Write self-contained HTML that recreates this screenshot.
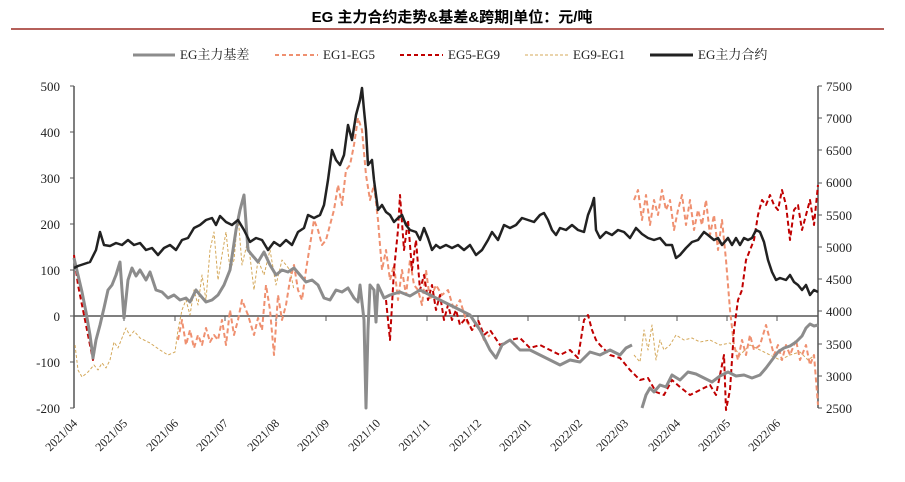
<!DOCTYPE html>
<html><head><meta charset="utf-8"><style>
body{margin:0;background:#fff;width:905px;height:477px;overflow:hidden}
svg{font-family:"Liberation Serif","Noto Serif CJK SC",serif}
</style></head><body>
<svg width="905" height="477" viewBox="0 0 905 477">
<text x="452" y="22" text-anchor="middle" font-family="Liberation Sans,Noto Sans CJK SC,sans-serif" font-weight="bold" font-size="15">EG 主力合约走势&amp;基差&amp;跨期|单位：元/吨</text>
<line x1="11" y1="29" x2="884" y2="29" stroke="#b5605a" stroke-width="2"/>
<g font-size="13" fill="#222">
<line x1="133" y1="55" x2="175" y2="55" stroke="#8c8c8c" stroke-width="3"/><text x="180" y="59">EG主力基差</text>
<line x1="275" y1="55" x2="318" y2="55" stroke="#ef9070" stroke-width="2" stroke-dasharray="4,3"/><text x="323" y="59">EG1-EG5</text>
<line x1="400" y1="55" x2="443" y2="55" stroke="#c00000" stroke-width="2" stroke-dasharray="4,3"/><text x="448" y="59">EG5-EG9</text>
<line x1="525" y1="55" x2="568" y2="55" stroke="#d4a85a" stroke-width="1" stroke-dasharray="3,2"/><text x="573" y="59">EG9-EG1</text>
<line x1="650" y1="55" x2="693" y2="55" stroke="#222" stroke-width="3"/><text x="698" y="59">EG主力合约</text>
</g>
<g stroke="#555" stroke-width="1.5">
<line x1="74" y1="86" x2="74" y2="408"/><line x1="818" y1="86" x2="818" y2="408"/>
<line x1="74" y1="316" x2="818" y2="316"/>
</g>
<g stroke="#555" stroke-width="1">
<path d="M70,86H74M70,132H74M70,178H74M70,224H74M70,270H74M70,316H74M70,362H74M70,408H74"/>
<path d="M818,86H822M818,118H822M818,150H822M818,183H822M818,215H822M818,247H822M818,279H822M818,311H822M818,344H822M818,376H822M818,408H822"/>
<path d="M124,316V321M175,316V321M225,316V321M276,316V321M326,316V321M377,316V321M427,316V321M478,316V321M528,316V321M579,316V321M625,316V321M677,316V321M727,316V321M777,316V321"/>
</g>
<g font-size="13" fill="#222" text-anchor="end">
<text x="60" y="91">500</text><text x="60" y="137">400</text><text x="60" y="183">300</text><text x="60" y="229">200</text><text x="60" y="275">100</text><text x="60" y="321">0</text><text x="60" y="367">-100</text><text x="60" y="413">-200</text>
</g>
<g font-size="13" fill="#222">
<text x="826" y="91">7500</text><text x="826" y="123">7000</text><text x="826" y="155">6500</text><text x="826" y="187">6000</text><text x="826" y="220">5500</text><text x="826" y="252">5000</text><text x="826" y="284">4500</text><text x="826" y="316">4000</text><text x="826" y="349">3500</text><text x="826" y="381">3000</text><text x="826" y="413">2500</text>
</g>
<g font-size="12" fill="#222">
<text transform="translate(78,424) rotate(-45)" text-anchor="end">2021/04</text>
<text transform="translate(128,424) rotate(-45)" text-anchor="end">2021/05</text>
<text transform="translate(179,424) rotate(-45)" text-anchor="end">2021/06</text>
<text transform="translate(229,424) rotate(-45)" text-anchor="end">2021/07</text>
<text transform="translate(280,424) rotate(-45)" text-anchor="end">2021/08</text>
<text transform="translate(330,424) rotate(-45)" text-anchor="end">2021/09</text>
<text transform="translate(381,424) rotate(-45)" text-anchor="end">2021/10</text>
<text transform="translate(431,424) rotate(-45)" text-anchor="end">2021/11</text>
<text transform="translate(482,424) rotate(-45)" text-anchor="end">2021/12</text>
<text transform="translate(532,424) rotate(-45)" text-anchor="end">2022/01</text>
<text transform="translate(583,424) rotate(-45)" text-anchor="end">2022/02</text>
<text transform="translate(629,424) rotate(-45)" text-anchor="end">2022/03</text>
<text transform="translate(681,424) rotate(-45)" text-anchor="end">2022/04</text>
<text transform="translate(731,424) rotate(-45)" text-anchor="end">2022/05</text>
<text transform="translate(781,424) rotate(-45)" text-anchor="end">2022/06</text>
</g>
<g fill="none" stroke-linejoin="round">
<polyline stroke="#d4a85a" stroke-width="1" stroke-dasharray="3,2" points="75,345 78,370 82,377 88,372 94,365 98,370 102,363 106,368 110,360 114,342 118,348 122,338 126,328 130,336 134,331 140,338 150,343 160,350 168,355 175,352 178,330 182,310 186,300 190,315 194,290 198,305 202,275 206,300 210,250 214,232 218,280 222,255 226,232 230,270 234,260 238,215 242,265 248,240 254,290 258,260 264,275 270,250 276,285 282,260 290,270 294,290"/>
<polyline stroke="#d4a85a" stroke-width="1" stroke-dasharray="3,2" points="634,355 640,362 644,330 648,350 652,325 656,360 660,340 664,350 670,345 676,335 684,340 692,338 700,342 710,340 720,345 730,343 740,355 750,345 760,350 770,355 780,360 790,355 800,352 808,360 815,355"/>
<polyline stroke="#ef9070" stroke-width="2" stroke-dasharray="5,3" points="178,340 182,320 186,345 190,330 194,348 198,335 202,345 206,328 210,342 214,335 218,340 222,320 226,345 230,310 234,335 238,320 242,300 248,315 254,335 258,318 262,330 266,285 270,310 274,355 278,295 282,320 286,305 290,280 294,265 298,290 302,300 306,270 310,245 314,220 318,230 322,245 326,240 330,225 334,210 338,185 342,205 346,170 350,165 354,145 358,118 362,130 366,175 370,200 374,185 378,220 382,270 386,250 390,280 394,265 398,300 402,270 406,295 410,260 414,285 418,290 422,305 426,270 430,300 436,285 442,295 448,290 454,310 460,300 466,320 472,330 478,325 484,340 490,335"/>
<polyline stroke="#ef9070" stroke-width="2" stroke-dasharray="5,3" points="634,200 638,190 642,220 646,195 650,225 654,200 658,215 662,190 666,210 670,200 674,230 678,210 682,195 686,225 690,200 694,230 698,210 702,225 706,200 710,235 714,215 718,250 722,220 726,260 730,310 734,345 738,360 742,340 746,355 750,335 754,350 760,345 766,325 770,340 774,355 778,345 782,360 786,345 790,355 796,340 800,360 806,345 810,365 814,355 818,405"/>
<polyline stroke="#c00000" stroke-width="2" stroke-dasharray="5,3" points="74,255 78,285 82,305 86,325 90,345 93,360 96,340"/>
<polyline stroke="#c00000" stroke-width="2" stroke-dasharray="5,3" points="386,300 390,340 394,270 398,230 400,195 404,250 408,220 412,270 416,240 420,290 424,275 428,300 432,285 436,310 440,295 444,320 448,305 452,320 456,310 460,325 466,318 472,330 478,320 484,335 490,330 500,345 510,340 520,338 530,348 540,345 550,350 560,355 570,350 578,358 584,320 588,315 592,330 596,340 600,345 610,355 620,358 630,370 640,380 648,378 656,392 664,395 672,380 680,387 690,395 700,390 710,385 716,395 720,375 724,355 726,410 730,390 734,330 738,300 742,290 746,260 750,250 754,240 758,215 762,200 766,205 770,195 774,205 778,210 782,190 786,205 790,240 794,210 798,205 802,230 806,215 810,200 814,225 818,185"/>
<polyline stroke="#8c8c8c" stroke-width="3" points="74,258 78,275 82,292 86,312 90,335 93,358 96,340 100,325 104,308 108,290 112,285 116,275 120,262 124,318 128,280 132,268 136,276 140,270 146,280 150,272 156,290 162,292 168,298 174,295 180,300 186,298 190,302 196,290 200,295 206,302 212,300 218,295 224,285 230,270 236,230 240,210 244,195 248,250 252,255 258,262 264,252 270,265 276,275 282,270 288,272 294,268 300,275 306,282 312,280 318,285 324,298 330,300 336,290 342,292 348,288 354,298 358,302 360,285 364,320 366,408 368,330 370,285 374,290 376,322 378,285 384,298 390,295 400,292 410,296 420,290 430,295 440,300 450,305 460,310 470,315 480,330 490,350 496,358 502,345 510,340 520,350 530,350 540,355 550,360 560,365 570,360 580,362 590,352 600,355 610,350 620,355 626,348 632,345"/>
<polyline stroke="#8c8c8c" stroke-width="3" points="642,408 646,395 650,388 654,392 660,385 666,387 672,375 680,380 688,372 696,374 704,378 712,382 720,376 728,372 736,376 744,375 752,378 760,375 766,368 772,360 778,352 784,348 790,346 796,342 802,336 806,328 810,324 814,326 818,325"/>
<polyline stroke="#222" stroke-width="2.5" points="74,268 78,266 84,264 90,262 96,250 100,232 104,245 110,246 116,243 122,245 128,240 134,245 140,243 146,250 152,248 158,255 164,248 170,245 176,250 182,240 188,238 194,228 200,225 206,220 212,218 216,225 220,216 226,222 232,225 238,220 244,230 250,242 256,238 262,240 268,250 274,242 280,246 286,240 292,245 298,232 304,228 308,215 314,218 320,215 324,205 328,180 332,150 336,160 340,165 344,155 348,125 352,140 356,115 360,100 362,88 364,110 366,130 368,165 372,160 374,180 378,210 382,205 386,212 390,215 394,222 398,218 402,215 406,225 410,230 416,232 420,240 424,228 428,238 432,250 436,245 440,248 446,245 452,248 458,245 464,250 470,245 476,255 482,250 488,240 492,232 498,240 504,225 510,228 516,225 522,218 528,220 534,222 540,215 544,213 548,220 552,230 556,235 560,228 566,230 572,225 578,230 584,232 588,215 592,205 594,198 596,230 600,238 606,232 612,235 618,230 624,232 630,238 636,228 642,234 648,238 654,240 660,238 666,245 672,245 676,258 680,255 686,248 692,242 698,240 704,232 708,235 714,240 718,238 722,245 728,238 732,245 736,238 740,245 744,238 748,240 752,238 756,230 760,232 764,242 768,260 772,272 776,280 780,278 786,280 790,275 794,282 798,285 802,290 806,285 810,295 814,290 818,292"/>
</g>
</svg>
</body></html>
